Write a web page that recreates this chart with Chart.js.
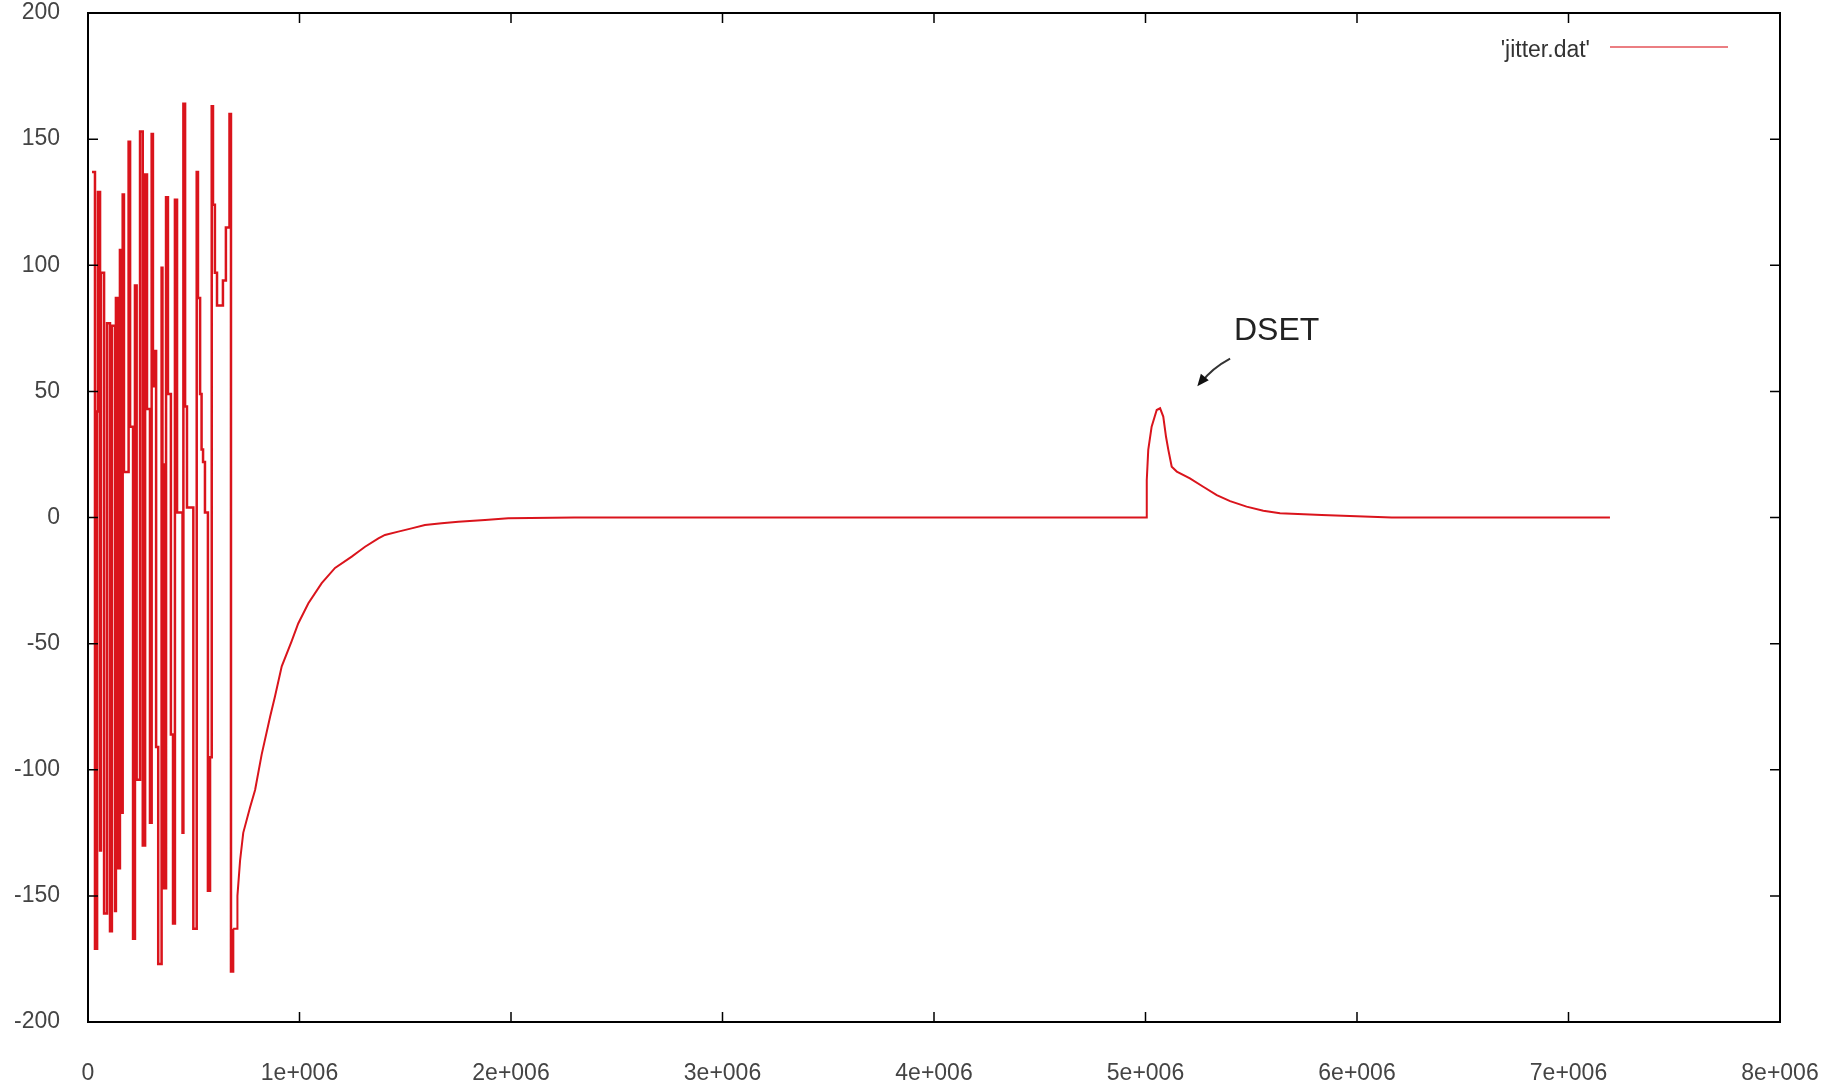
<!DOCTYPE html>
<html>
<head>
<meta charset="utf-8">
<script src="https://cdn.jsdelivr.net/npm/chart.js@4/dist/chart.umd.min.js"></script>
<style>
  html, body { margin: 0; padding: 0; background: #fff; }
  #wrap { width: 1843px; height: 1088px; }
</style>
</head>
<body>
<div id="wrap"><canvas id="chart" width="1843" height="1088"></canvas></div>
<script>
// values (x in samples, y in jitter units)
// noisy start-up part, drawn as steps
const noiseX = [
    19000, 33000, 43000, 47000, 57000, 61000, 76000, 90000, 104000, 113000,
    128000, 132000, 142000, 151000, 156000, 164000, 170000, 192000, 199000, 213000,
    222000, 230000, 246000, 259000, 270000, 279000, 293000, 301000, 307000, 315000,
    322000, 332000, 348000, 352000, 359000, 369000, 378000, 392000, 402000, 411000,
    421000, 447000, 451000, 459000, 468000, 498000, 514000, 520000, 530000, 537000,
    544000, 553000, 567000, 577000, 585000, 591000, 600000, 610000, 638000, 652000,
    669000, 676000, 686000
];
const noiseY = [
    137, -171, 42, 129, -132, 97, -157, 77, -164, 76,
    -156, 87, -139, 106, -117, 128, 18, 149, 36, -167,
    92, -104, 153, -130, 136, 43, -121, 152, 52, 66,
    -91, -177, 99, 21, -147, 127, 49, -86, -161, 126,
    2, -125, 164, 44, 4, -163, 137, 87, 49, 27,
    22, 2, -148, -95, 163, 124, 97, 84, 94, 115,
    160, -180, -163
];
// settling curve, flat part and the DSET bump
const settleX = [
    686000, 706000, 706500, 719000, 734000, 766000, 790000, 821000, 861000, 884000, 916000,
    963000, 994000, 1042000, 1105000, 1168000, 1247000, 1278000, 1310000, 1373000, 1404000,
    1467000, 1530000, 1593000, 1672000, 1751000, 1877000, 1987000, 2300000,
    5005000, 5006000, 5013000, 5029000, 5053000, 5069000, 5084000, 5097000, 5108000, 5124000,
    5148000, 5210000, 5273000, 5337000, 5400000, 5478000, 5557000, 5636000, 5833000, 6164000,
    7196000
];
const settleY = [
    -163, -163, -150, -136, -125, -115, -108, -94, -79, -71, -59,
    -49, -42, -34, -26, -20, -15.5, -13.6, -11.6, -8.3, -6.9,
    -5.6, -4.3, -3, -2.3, -1.7, -1, -0.3, 0,
    0, 14.9, 26.8, 36, 42.6, 43.3, 40, 32, 26.8, 20.1,
    18.2, 15.5, 12.2, 8.9, 6.5, 4.3, 2.7, 1.7, 1, 0,
    0
];
const xTickLabels = ['0', '1e+006', '2e+006', '3e+006', '4e+006', '5e+006', '6e+006', '7e+006', '8e+006'];
const yTickLabels = ['-200', '-150', '-100', '-50', '0', '50', '100', '150', '200'];
const seriesLabel = "'jitter.dat'";

const note = { text: 'DSET', x: 5.62e6, y: 74, arrowFrom: [5.40e6, 63], arrowTo: [5.245e6, 52] };

const lineColor = 'rgb(218, 20, 28)';
const tickFont = { family: 'Liberation Sans', size: 23 };

// gnuplot style frame with inward ticks on all four sides
const framePlugin = {
    id: 'frame',
    afterDatasetsDraw(chart) {
        const { ctx, chartArea: a, scales } = chart;
        const len = 10;
        ctx.save();
        ctx.strokeStyle = '#000';
        ctx.lineWidth = 1.5;
        ctx.beginPath();
        scales.x.ticks.forEach((t, i) => {
            const px = scales.x.getPixelForTick(i);
            ctx.moveTo(px, a.bottom); ctx.lineTo(px, a.bottom - len);
            ctx.moveTo(px, a.top); ctx.lineTo(px, a.top + len);
        });
        scales.y.ticks.forEach((t, i) => {
            const py = scales.y.getPixelForTick(i);
            ctx.moveTo(a.left, py); ctx.lineTo(a.left + len, py);
            ctx.moveTo(a.right, py); ctx.lineTo(a.right - len, py);
        });
        ctx.stroke();
        ctx.lineWidth = 2;
        ctx.strokeRect(a.left, a.top, a.right - a.left, a.bottom - a.top);

        // key, top right: text then line sample
        const ds = chart.data.datasets[0];
        ctx.font = `${tickFont.size}px ${tickFont.family}`;
        ctx.fillStyle = '#333';
        ctx.textAlign = 'right';
        ctx.textBaseline = 'middle';
        ctx.fillText(ds.label, a.right - 190, a.top + 38);
        ctx.strokeStyle = 'rgba(218, 20, 28, 0.55)';
        ctx.lineWidth = 2;
        ctx.beginPath();
        ctx.moveTo(a.right - 170, a.top + 34);
        ctx.lineTo(a.right - 52, a.top + 34);
        ctx.stroke();

        // DSET note with curved arrow
        const X = v => scales.x.getPixelForValue(v);
        const Y = v => scales.y.getPixelForValue(v);
        ctx.font = '32px Liberation Sans';
        ctx.fillStyle = '#222';
        ctx.textAlign = 'center';
        ctx.fillText(note.text, X(note.x), Y(note.y));
        const x0 = X(note.arrowFrom[0]), y0 = Y(note.arrowFrom[1]);
        const x1 = X(note.arrowTo[0]), y1 = Y(note.arrowTo[1]);
        const cx = (x0 + x1) / 2 - 2, cy = (y0 + y1) / 2 - 4;
        ctx.strokeStyle = '#333';
        ctx.lineWidth = 2;
        ctx.beginPath();
        ctx.moveTo(x0, y0);
        ctx.quadraticCurveTo(cx, cy, x1 + 4, y1 - 4);
        ctx.stroke();
        const ang = Math.atan2(y1 - cy, x1 - cx);
        ctx.fillStyle = '#111';
        ctx.beginPath();
        ctx.moveTo(x1, y1);
        ctx.lineTo(x1 - 13 * Math.cos(ang - 0.4), y1 - 13 * Math.sin(ang - 0.4));
        ctx.lineTo(x1 - 13 * Math.cos(ang + 0.4), y1 - 13 * Math.sin(ang + 0.4));
        ctx.closePath();
        ctx.fill();
        ctx.restore();
    }
};

const toPoints = (xs, ys) => xs.map((x, i) => ({ x, y: ys[i] }));

new Chart(document.getElementById('chart'), {
    type: 'line',
    data: {
        datasets: [{
            label: seriesLabel,
            data: toPoints(noiseX, noiseY),
            borderColor: lineColor,
            borderWidth: 2.5,
            pointRadius: 0,
            stepped: true,
            fill: false
        }, {
            label: seriesLabel,
            data: toPoints(settleX, settleY),
            borderColor: lineColor,
            borderWidth: 2,
            pointRadius: 0,
            fill: false
        }]
    },
    options: {
        responsive: false,
        animation: false,
        layout: { padding: { left: 0, top: 13, right: 63, bottom: 0 } },
        plugins: { legend: { display: false }, tooltip: { enabled: false } },
        scales: {
            x: {
                type: 'linear',
                min: 0,
                max: 8e6,
                grid: { display: false, drawTicks: false },
                border: { display: false },
                ticks: {
                    stepSize: 1e6,
                    maxRotation: 0,
                    autoSkip: false,
                    padding: 38,
                    color: '#444',
                    font: tickFont,
                    callback: (v, i) => xTickLabels[i]
                },
                afterFit: s => { s.height = 66; s.paddingLeft = 0; s.paddingRight = 0; }
            },
            y: {
                min: -200,
                max: 200,
                grid: { display: false, drawTicks: false },
                border: { display: false },
                ticks: {
                    stepSize: 50,
                    padding: 28,
                    color: '#444',
                    font: tickFont,
                    callback: (v, i) => yTickLabels[i]
                },
                afterFit: s => { s.width = 88; s.paddingTop = 0; s.paddingBottom = 0; }
            }
        }
    },
    plugins: [framePlugin]
});
</script>
</body>
</html>
